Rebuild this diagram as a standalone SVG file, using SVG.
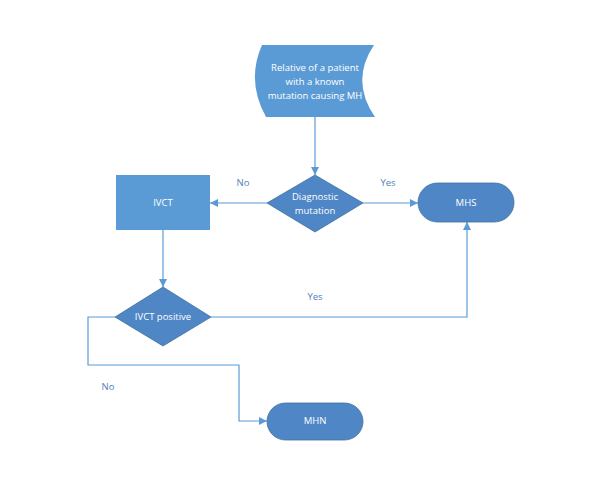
<svg xmlns="http://www.w3.org/2000/svg" width="598" height="479" viewBox="0 0 598 479">
<style>
.t{font-family:"Open Sans","Liberation Sans",sans-serif;font-size:9.5px;fill:#ffffff;text-anchor:middle}
.l{font-family:"Open Sans","Liberation Sans",sans-serif;font-size:9.5px;fill:#4F81BD;text-anchor:middle}
.c{fill:none;stroke:#5B9BD5;stroke-width:1.2}
.lt{fill:#5B9BD5}
.dk{fill:#4F86C6;stroke:#41719C;stroke-width:0.8}
</style>
<defs>
<marker id="a" viewBox="0 0 10 10" refX="10" refY="5" markerWidth="8" markerHeight="8" markerUnits="userSpaceOnUse" orient="auto">
<path d="M0,0 L10,5 L0,10 Z" fill="#5B9BD5"/>
</marker>
</defs>
<rect width="598" height="479" fill="#ffffff"/>
<g id="connectors">
<path class="c" d="M315,117 L315,175" marker-end="url(#a)"/>
<path class="c" d="M267,203 L210,203" marker-end="url(#a)"/>
<path class="c" d="M363,203 L418,203" marker-end="url(#a)"/>
<path class="c" d="M163,230 L163,287" marker-end="url(#a)"/>
<path class="c" d="M211,317 L467,317 L467,222" marker-end="url(#a)"/>
<path class="c" d="M115,317 L88,317 L88,365 L239,365 L239,421 L267,421" marker-end="url(#a)"/>
</g>
<g id="labels">
<text class="l" x="243" y="186">No</text>
<text class="l" x="388" y="186">Yes</text>
<text class="l" x="315" y="300">Yes</text>
<text class="l" x="108" y="390">No</text>
</g>
<g id="relative">
<path class="lt" d="M262,45 L374,45 Q350,81 375,117 L266,117 Q246,81 262,45 Z"/>
<text class="t" x="315" y="71">Relative of a patient</text>
<text class="t" x="315" y="85">with a known</text>
<text class="t" x="315" y="99">mutation causing MH</text>
</g>
<g id="diagnostic">
<polygon class="dk" points="315,175 363,203 315,232 267,203"/>
<text class="t" x="315" y="200">Diagnostic</text>
<text class="t" x="315" y="214">mutation</text>
</g>
<g id="ivct">
<rect class="lt" x="116" y="175" width="94" height="55"/>
<text class="t" x="163" y="206">IVCT</text>
</g>
<g id="mhs">
<rect class="dk" x="418" y="183" width="96" height="39" rx="19.5"/>
<text class="t" x="466" y="206">MHS</text>
</g>
<g id="ivctpos">
<polygon class="dk" points="163,287 211,317 163,346 115,317"/>
<text class="t" x="163" y="320">IVCT positive</text>
</g>
<g id="mhn">
<rect class="dk" x="267" y="403" width="96" height="37" rx="18.5"/>
<text class="t" x="315" y="424">MHN</text>
</g>
</svg>
